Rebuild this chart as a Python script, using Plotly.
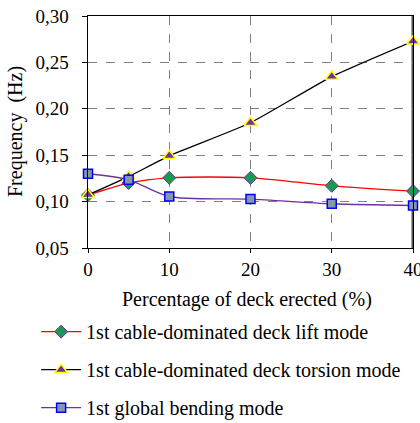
import plotly.graph_objects as go

x_pct = [0, 5, 10, 20, 30, 40]
lift = [0.107, 0.120, 0.1256, 0.1256, 0.117, 0.1113]
torsion = [0.1073, 0.127, 0.1493, 0.185, 0.2347, 0.2728]
bending = [0.130, 0.1235, 0.1055, 0.1027, 0.0977, 0.0958]

names = ["1st cable-dominated deck lift mode",
         "1st cable-dominated deck torsion mode",
         "1st global bending mode"]
x_title = "Percentage of deck erected (%)"
y_title = "Frequency  (Hz)"

fig = go.Figure()
fig.add_trace(go.Scatter(
    x=x_pct, y=lift, name=names[0], mode="lines+markers", legendgroup="a",
    cliponaxis=False,
    line=dict(color="#ff0000", width=1.3, shape="spline", smoothing=0.8),
    marker=dict(symbol="diamond", size=10, color="#1a9a50",
                line=dict(color="#7030a0", width=1))))
fig.add_trace(go.Scatter(
    x=x_pct, y=torsion, name=names[1], mode="lines+markers", legendgroup="b",
    cliponaxis=False,
    line=dict(color="#000000", width=1.3, shape="spline", smoothing=0.5),
    marker=dict(symbol="triangle-up", size=11, color="#7030a0",
                line=dict(color="#ffff00", width=1.5))))
fig.add_trace(go.Scatter(
    x=x_pct, y=bending, name=names[2], mode="lines+markers", legendgroup="c",
    cliponaxis=False,
    line=dict(color="#7030a0", width=1.3, shape="spline", smoothing=0.8),
    marker=dict(symbol="square", size=9, color="#8497b0",
                line=dict(color="#0000ff", width=1.5))))

fig.add_shape(type="line", xref="x", yref="paper", x0=40, x1=40, y0=0, y1=1,
              layer="below", line=dict(color="#555555", width=3))

font = "Liberation Serif, Times New Roman, serif"
fig.update_layout(
    width=420, height=423,
    margin=dict(l=88, r=7, t=16, b=175, autoexpand=False),
    paper_bgcolor="white", plot_bgcolor="white",
    separators=",.",
    font=dict(family=font, size=19, color="#000000"),
    showlegend=True,
    legend=dict(xref="container", yref="container",
                x=0.086, xanchor="left", y=0.262, yanchor="top",
                orientation="v", tracegroupgap=9,
                font=dict(family=font, size=20, color="#000000"),
                itemwidth=40, bgcolor="rgba(0,0,0,0)"),
    xaxis=dict(
        range=[0, 40], tickvals=[0, 10, 20, 30, 40],
        showline=True, linecolor="#000000", linewidth=1, mirror=True,
        ticks="outside", ticklen=4, tickcolor="#000000",
        showgrid=True, gridcolor="#808080", griddash="dash", gridwidth=1,
        zeroline=False, automargin=False, ticklabeloverflow="allow",
        tickfont=dict(size=19),
    ),
    yaxis=dict(
        range=[0.05, 0.30], dtick=0.05, tickformat=".2f", ticksuffix="\u2002",
        showline=True, linecolor="#000000", linewidth=1, mirror=True,
        ticks="outside", ticklen=5, tickcolor="#000000",
        showgrid=True, gridcolor="#808080", griddash="dash", gridwidth=1,
        zeroline=False, automargin=False,
        tickfont=dict(size=19),
    ),
    annotations=[
        dict(text=x_title, xref="paper", yref="paper", x=0.489, y=-0.224,
             xanchor="center", yanchor="middle", showarrow=False,
             font=dict(family=font, size=20, color="#000000")),
        dict(text=y_title, xref="paper", yref="paper", x=-0.2246, y=0.5,
             xanchor="center", yanchor="middle", showarrow=False, textangle=-90,
             font=dict(family=font, size=20, color="#000000")),
    ],
)

fig.write_html("out.html", config={"displayModeBar": False},
               post_script="document.body.style.margin='0px';")
